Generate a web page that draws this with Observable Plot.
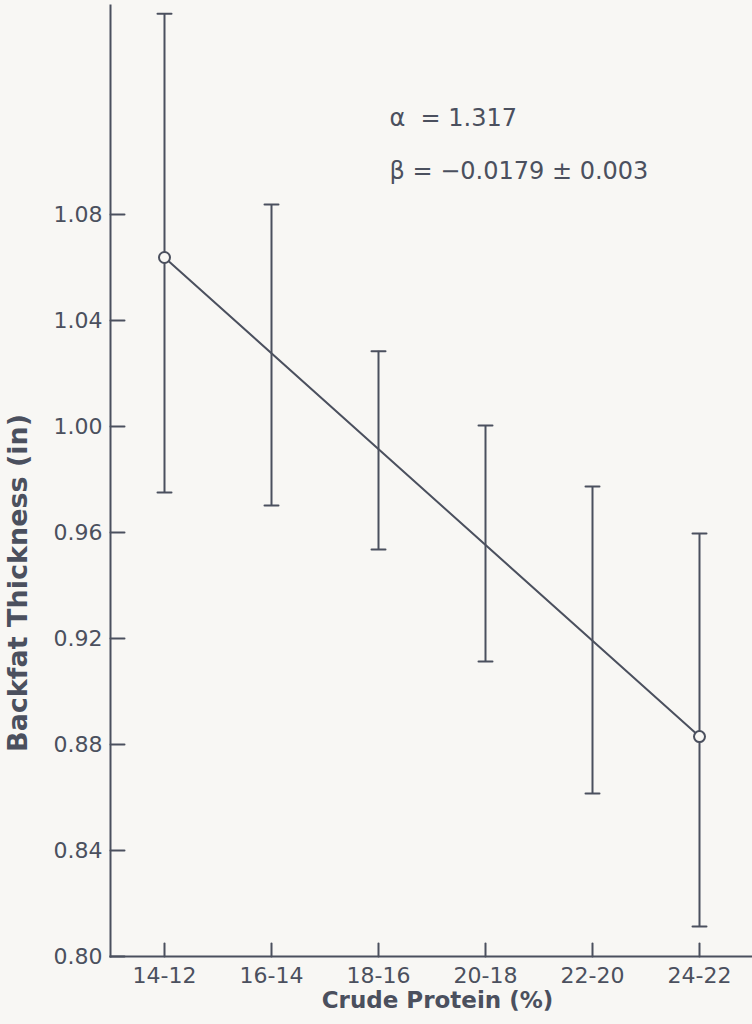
<!DOCTYPE html>
<html><head><meta charset="utf-8">
<script src="https://cdn.jsdelivr.net/npm/d3@7"></script>
<script src="https://cdn.jsdelivr.net/npm/@observablehq/plot@0.6"></script>
<style>
html,body{margin:0;padding:0;background:#f8f7f4;}
#chart svg{display:block;}
</style></head><body><div id="chart"></div>
<script>
// Crude protein sequence (categories) and backfat thickness error-bar limits
const categories = ["14-12", "16-14", "18-16", "20-18", "22-20", "24-22"];
const upperValues = [1.1558, 1.0838, 1.0284, 1.0004, 0.9774, 0.9596];
const lowerValues = [0.9751, 0.9702, 0.9536, 0.9113, 0.8615, 0.8113];
// Fitted regression line end points
const fitCategories = ["14-12", "24-22"];
const fitValues = [1.0638, 0.8830];
const yTicks = [0.80, 0.84, 0.88, 0.92, 0.96, 1.00, 1.04, 1.08];
const annotationTexts = ["α  = 1.317", "β = −0.0179 ± 0.003"];
const annotationCategories = ["18-16", "18-16"];
const annotationValues = [1.1136, 1.0936];
const yLabel = "Backfat Thickness (in)";
const xLabel = "Crude Protein (%)";

const ink = "#4b505e";
const bg = "#f8f7f4";

const bars = categories.map((c, i) => ({cat: c, lo: lowerValues[i], hi: upperValues[i]}));
const fit = fitCategories.map((c, i) => ({cat: c, y: fitValues[i]}));
const notes = annotationTexts.map((t, i) => ({text: t, cat: annotationCategories[i], y: annotationValues[i]}));
const tickShape = {draw(context, l) { context.moveTo(0, 0); context.lineTo(0, -l); }};

const chart = Plot.plot({
  width: 752,
  height: 1024,
  marginLeft: 110,
  marginRight: 0,
  marginTop: 5,
  marginBottom: 68,
  style: {background: bg, color: ink, fontFamily: "DejaVu Sans, sans-serif", fontSize: "22px"},
  x: {type: "point", domain: categories, padding: 0.5},
  y: {domain: [0.80, 1.1589]},
  marks: [
    Plot.frame({anchor: "left", stroke: ink, strokeWidth: 2}),
    Plot.frame({anchor: "bottom", stroke: ink, strokeWidth: 2}),
    Plot.axisY({ticks: yTicks, tickSize: 0, tickPadding: 8, tickFormat: d3.format(".2f"), label: null, fill: ink, fontSize: 22}),
    Plot.axisX({tickSize: 0, tickPadding: 11, label: null, fill: ink, fontSize: 22}),
    Plot.vector(yTicks, {y: d => d, frameAnchor: "left", length: 14, rotate: 90, anchor: "start", shape: tickShape, stroke: ink, strokeWidth: 2}),
    Plot.vector(categories, {x: d => d, frameAnchor: "bottom", length: 13, rotate: 0, anchor: "start", shape: tickShape, stroke: ink, strokeWidth: 2}),
    Plot.ruleX(bars, {x: "cat", y1: "lo", y2: "hi", stroke: ink, strokeWidth: 2}),
    Plot.vector(bars, {x: "cat", y: "hi", length: 14, rotate: 90, anchor: "middle", shape: tickShape, stroke: ink, strokeWidth: 2}),
    Plot.vector(bars, {x: "cat", y: "lo", length: 14, rotate: 90, anchor: "middle", shape: tickShape, stroke: ink, strokeWidth: 2}),
    Plot.line(fit, {x: "cat", y: "y", stroke: ink, strokeWidth: 2}),
    Plot.dot(fit, {x: "cat", y: "y", r: 5.5, fill: bg, stroke: ink, strokeWidth: 2}),
    Plot.text(notes, {x: "cat", y: "y", text: "text", dx: 11, textAnchor: "start", lineAnchor: "bottom", fill: ink, fontSize: 24}),
    Plot.text([yLabel], {frameAnchor: "left", y: () => 0.941, rotate: -90, dx: -92, textAnchor: "middle", fill: ink, fontSize: 27, fontWeight: "bold"}),
    Plot.text([xLabel], {frameAnchor: "bottom", dx: 6, dy: 51, textAnchor: "middle", fill: ink, fontSize: 23, fontWeight: "bold"})
  ]
});
document.getElementById("chart").appendChild(chart);
</script>
</body></html>
